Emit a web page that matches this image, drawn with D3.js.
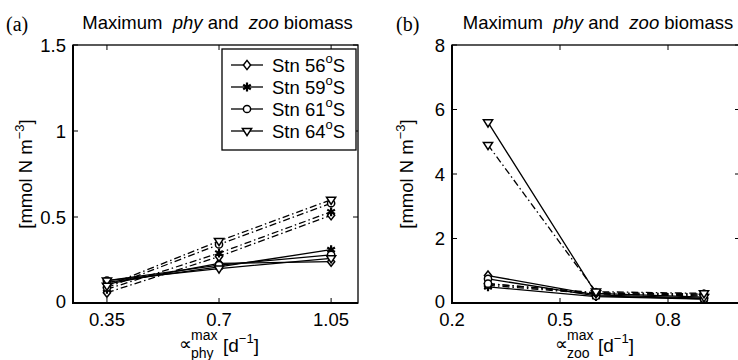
<!DOCTYPE html>
<html>
<head>
<meta charset="utf-8">
<script src="https://cdn.jsdelivr.net/npm/d3@7"></script>
<style>
  body { margin: 0; background: #fff; }
  svg text { font-family: "Liberation Sans", Arial, sans-serif; fill: #000; }
</style>
</head>
<body>
<div id="chart"></div>
<script>
// growth-rate values on the x axes
const xPhy = [0.35, 0.7, 1.05];
const xZoo = [0.3, 0.6, 0.9];

const stations = ["56", "59", "61", "64"];
const markerTypes = ["diamond", "star", "circle", "triangle"];

// panel (a): varying phy max growth rate
const aPhy = [[0.11, 0.23, 0.24], [0.12, 0.21, 0.31], [0.13, 0.22, 0.28], [0.13, 0.20, 0.26]];
const aZoo = [[0.06, 0.27, 0.51], [0.08, 0.29, 0.53], [0.09, 0.34, 0.58], [0.10, 0.36, 0.60]];

// panel (b): varying zoo max grazing rate
const bPhy = [[0.85, 0.25, 0.15], [0.50, 0.20, 0.12], [0.75, 0.22, 0.13], [5.6, 0.30, 0.18]];
const bZoo = [[0.60, 0.30, 0.25], [0.55, 0.28, 0.22], [0.60, 0.32, 0.28], [4.9, 0.35, 0.30]];

const ticksA = { x: [0.35, 0.7, 1.05], y: [0, 0.5, 1, 1.5] };
const ticksB = { x: [0.2, 0.5, 0.8], y: [0, 2, 4, 6, 8] };

const W = 738, H = 360;
const svg = d3.select("#chart").append("svg").attr("width", W).attr("height", H);

function marker(g, type, x, y) {
  const s = 3.6;
  if (type === "diamond") {
    g.append("path").attr("d", `M${x},${y - s - 1}L${x + s},${y}L${x},${y + s + 1}L${x - s},${y}Z`)
      .attr("fill", "#fff").attr("stroke", "#000").attr("stroke-width", 1.5);
  } else if (type === "circle") {
    g.append("circle").attr("cx", x).attr("cy", y).attr("r", s)
      .attr("fill", "#fff").attr("stroke", "#000").attr("stroke-width", 1.5);
  } else if (type === "triangle") {
    g.append("path").attr("d", `M${x - s - 1},${y - s + 1}L${x + s + 1},${y - s + 1}L${x},${y + s + 1}Z`)
      .attr("fill", "#fff").attr("stroke", "#000").attr("stroke-width", 1.5);
  } else {
    g.append("path").attr("d", d3.symbol(d3.symbolAsterisk, 55)())
      .attr("transform", `translate(${x},${y})`)
      .attr("fill", "none").attr("stroke", "#000").attr("stroke-width", 2.2);
  }
}

function panel(opt) {
  const { left, right, top, bottom } = opt;
  const x = d3.scaleLinear().domain(opt.xDomain).range([left, right]);
  const y = d3.scaleLinear().domain(opt.yDomain).range([bottom, top]);
  const g = svg.append("g");

  // box
  g.append("rect").attr("x", left).attr("y", top).attr("width", right - left).attr("height", bottom - top)
    .attr("fill", "none").attr("stroke", "#000").attr("stroke-width", 1.3);
  g.append("path").attr("d", `M${left},${top}V${bottom}H${right}`)
    .attr("fill", "none").attr("stroke", "#000").attr("stroke-width", 2);

  const tl = 5;
  // x ticks, inward at bottom and top
  opt.xTicks.forEach(t => {
    g.append("line").attr("x1", x(t)).attr("x2", x(t)).attr("y1", bottom).attr("y2", bottom - tl).attr("stroke", "#000");
    g.append("line").attr("x1", x(t)).attr("x2", x(t)).attr("y1", top).attr("y2", top + tl).attr("stroke", "#000");
    g.append("text").attr("x", x(t)).attr("y", bottom + 23).attr("text-anchor", "middle")
      .attr("font-size", 18.5).text(opt.xFmt(t));
  });
  opt.yTicks.forEach(t => {
    g.append("line").attr("x1", left).attr("x2", left + tl).attr("y1", y(t)).attr("y2", y(t)).attr("stroke", "#000");
    g.append("line").attr("x1", right).attr("x2", right - tl).attr("y1", y(t)).attr("y2", y(t)).attr("stroke", "#000");
    g.append("text").attr("x", left - 7).attr("y", y(t) + (t === 0 ? 5 : 6.5)).attr("text-anchor", "end")
      .attr("font-size", 18.5).text(d3.format("")(t));
  });

  // series
  const line = d3.line().x(d => x(d[0])).y(d => y(d[1]));
  stations.forEach((s, i) => {
    [[opt.phy[i], null], [opt.zoo[i], "7,3,1.5,3"]].forEach(([vals, dash]) => {
      const pts = opt.xs.map((v, j) => [v, vals[j]]);
      g.append("path").attr("d", line(pts)).attr("fill", "none").attr("stroke", "#000")
        .attr("stroke-width", 1.3).attr("stroke-dasharray", dash);
      pts.forEach(p => marker(g, markerTypes[i], x(p[0]), y(p[1])));
    });
  });

  // title
  const ttl = g.append("text").attr("x", (left + right) / 2 + 2).attr("y", 29).attr("text-anchor", "middle")
    .attr("font-size", 18.5).attr("xml:space", "preserve");
  ttl.append("tspan").text("Maximum  ");
  ttl.append("tspan").attr("font-style", "italic").text("phy");
  ttl.append("tspan").text(" and  ");
  ttl.append("tspan").attr("font-style", "italic").text("zoo");
  ttl.append("tspan").text(" biomass");

  g.append("text").attr("x", opt.tagX).attr("y", 31).attr("font-size", 20)
    .style("font-family", "'Liberation Serif', 'Times New Roman', serif").text(opt.tag);

  // y label
  const yl = g.append("text").attr("transform", `translate(${opt.ylabX},${(top + bottom) / 2}) rotate(-90)`)
    .attr("text-anchor", "middle").attr("font-size", 18.5);
  yl.append("tspan").text("[mmol N m");
  yl.append("tspan").attr("font-size", 13).attr("dy", -8).text("−3");
  yl.append("tspan").attr("dy", 8).text("]");

  // x label
  const cx = opt.xlabX;
  g.append("text").attr("x", cx).attr("y", 350).attr("font-size", 18).text("∝");
  g.append("text").attr("x", cx + 12).attr("y", 340).attr("font-size", 14).text("max");
  g.append("text").attr("x", cx + 12).attr("y", 358).attr("font-size", 14).text(opt.sub);
  const xl = g.append("text").attr("x", cx + opt.subW).attr("y", 352).attr("font-size", 19);
  xl.append("tspan").text("[d");
  xl.append("tspan").attr("font-size", 13).attr("dy", -9).text("−1");
  xl.append("tspan").attr("dy", 9).text("]");
}

panel({
  left: 73, right: 358, top: 45, bottom: 303,
  xDomain: [0.244, 1.134], yDomain: [0, 1.5],
  xTicks: ticksA.x, yTicks: ticksA.y, xFmt: d3.format(""),
  xs: xPhy, phy: aPhy, zoo: aZoo,
  tag: "(a)", tagX: 6, ylabX: 32, xlabX: 179, sub: "phy", subW: 44
});

panel({
  left: 452, right: 740, top: 45, bottom: 303,
  xDomain: [0.2, 1.0], yDomain: [0, 8],
  xTicks: ticksB.x, yTicks: ticksB.y, xFmt: d3.format(""),
  xs: xZoo, phy: bPhy, zoo: bZoo,
  tag: "(b)", tagX: 396, ylabX: 413, xlabX: 555, sub: "zoo", subW: 43
});

// legend (panel a)
const lg = svg.append("g");
lg.append("rect").attr("x", 222).attr("y", 49).attr("width", 134).attr("height", 101)
  .attr("fill", "#fff").attr("stroke", "#000").attr("stroke-width", 1.3);
stations.forEach((s, i) => {
  const yy = 65 + i * 22;
  lg.append("line").attr("x1", 231).attr("x2", 263).attr("y1", yy).attr("y2", yy).attr("stroke", "#000").attr("stroke-width", 1.3);
  marker(lg, markerTypes[i], 247, yy);
  const t = lg.append("text").attr("x", 272).attr("y", yy + 6.5).attr("font-size", 18.5);
  t.append("tspan").text("Stn " + s);
  t.append("tspan").attr("font-size", 13).attr("dy", -9).text("o");
  t.append("tspan").attr("dy", 9).text("S");
});
</script>
</body>
</html>
